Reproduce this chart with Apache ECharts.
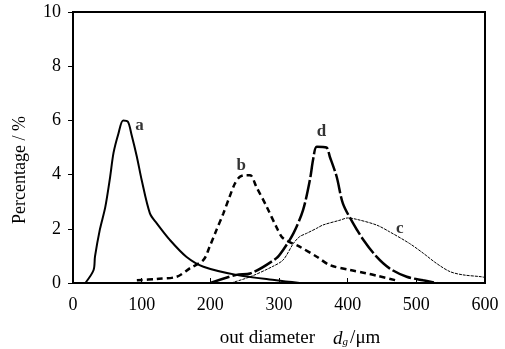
<!DOCTYPE html>
<html>
<head>
<meta charset="utf-8">
<script src="https://cdn.jsdelivr.net/npm/echarts@6/dist/echarts.min.js"></script>
<style>
  html, body { margin: 0; padding: 0; background: #fff; }
</style>
</head>
<body>
<div id="chart" style="width: 505px; height: 349px;"></div>
<script>
// curve a
const aX = [18, 30, 32, 39, 47, 54, 59, 66, 73, 80, 85, 93, 100, 112, 122, 141, 165, 190, 238, 296, 330];
const aY = [0, 0.48, 0.97, 1.96, 2.8, 3.9, 4.8, 5.5, 6.0, 5.95, 5.5, 4.66, 3.8, 2.57, 2.2, 1.59, 0.97, 0.6, 0.3, 0.1, 0];
// curve b
const bX = [93, 122, 151, 170, 190, 199, 209, 219, 228, 236, 243, 250, 258, 267, 282, 296, 306, 330, 355, 374, 403, 427, 444, 470];
const bY = [0.1, 0.15, 0.23, 0.54, 0.85, 1.34, 1.96, 2.57, 3.18, 3.68, 3.92, 3.98, 3.98, 3.55, 2.82, 2.08, 1.65, 1.34, 0.97, 0.66, 0.48, 0.36, 0.26, 0.1];
// curve c
const cX = [230, 258, 290, 306, 321, 330, 340, 355, 364, 389, 400, 413, 442, 461, 490, 510, 529, 549, 568, 595, 600];
const cY = [0, 0.23, 0.6, 0.85, 1.46, 1.71, 1.83, 2.02, 2.14, 2.32, 2.4, 2.35, 2.14, 1.89, 1.46, 1.1, 0.73, 0.42, 0.3, 0.23, 0.2];
// curve d
const dX = [200, 238, 258, 296, 306, 321, 335, 345, 350, 355, 369, 374, 384, 393, 408, 423, 442, 461, 486, 510, 530];
const dY = [0, 0.3, 0.35, 0.91, 1.22, 1.83, 2.69, 3.8, 4.6, 5.03, 5.0, 4.66, 3.92, 2.94, 2.2, 1.59, 0.97, 0.54, 0.23, 0.1, 0];
// curve labels
const labelNames = ['a', 'b', 'c', 'd'];
const labelX = [97, 245, 476, 362];
const labelY = [5.8, 4.35, 2.0, 5.6];

const xTicks = [0, 100, 200, 300, 400, 500, 600];
const yTicks = [0, 2, 4, 6, 8, 10];

const pairs = (xs, ys) => xs.map((x, i) => [x, ys[i]]);
const serif = 'Liberation Serif';

const chart = echarts.init(document.getElementById('chart'), null, { renderer: 'canvas' });

function lineSeries(name, xs, ys, width, type) {
    return {
        name: name,
        type: 'line',
        data: pairs(xs, ys),
        smooth: 0.3,
        symbol: 'none',
        lineStyle: { color: '#000', width: width, type: type },
        z: 3
    };
}

chart.setOption({
    animation: false,
    backgroundColor: '#fff',
    grid: {
        left: 73, right: 20, top: 12, bottom: 66,
        outerBoundsMode: 'none',
        containLabel: false,
        show: true, borderColor: '#000', borderWidth: 2
    },
    graphic: [{
        type: 'text',
        x: 20, y: 170,
        rotation: Math.PI / 2,
        style: {
            text: 'Percentage / %',
            fontFamily: serif, fontSize: 18, fill: '#000',
            align: 'center', verticalAlign: 'middle'
        }
    }],
    xAxis: {
        type: 'value',
        min: xTicks[0],
        max: xTicks[xTicks.length - 1],
        interval: 100,
        name: 'out diameter{i|d}{s|g}/μm',
        nameLocation: 'middle',
        nameGap: 46,
        nameTextStyle: {
            fontFamily: serif, fontSize: 19, color: '#000',
            padding: [0, 0, 0, 42],
            rich: {
                i: { fontFamily: serif, fontStyle: 'italic', fontSize: 19, color: '#000', padding: [0, 0, 0, 18] },
                s: { fontFamily: serif, fontStyle: 'italic', fontSize: 11, color: '#000', verticalAlign: 'bottom', padding: [8, 2, 0, 0] }
            }
        },
        axisLine: { lineStyle: { color: '#000', width: 2 } },
        axisTick: { inside: true, length: 5, lineStyle: { color: '#000' } },
        axisLabel: { fontFamily: serif, fontSize: 18, color: '#000', margin: 13 },
        splitLine: { show: false }
    },
    yAxis: {
        type: 'value',
        min: yTicks[0],
        max: yTicks[yTicks.length - 1],
        interval: 2,
        axisLine: { lineStyle: { color: '#000', width: 2 } },
        axisTick: { inside: false, length: 5, lineStyle: { color: '#000' } },
        axisLabel: { fontFamily: serif, fontSize: 18, color: '#000', margin: 12 },
        splitLine: { show: false }
    },
    series: [
        lineSeries('a', aX, aY, 2, 'solid'),
        lineSeries('b', bX, bY, 2.5, [6, 4]),
        lineSeries('c', cX, cY, 1, [3, 1]),
        lineSeries('d', dX, dY, 2.5, [20, 3]),
        {
            type: 'scatter',
            symbolSize: 0,
            data: labelNames.map((n, i) => ({ value: [labelX[i], labelY[i]], name: n })),
            label: {
                show: true,
                formatter: '{b}',
                position: 'inside',
                fontFamily: serif,
                fontSize: 17,
                fontWeight: 'bold',
                color: '#000'
            },
            z: 5
        }
    ]
});
</script>
</body>
</html>
